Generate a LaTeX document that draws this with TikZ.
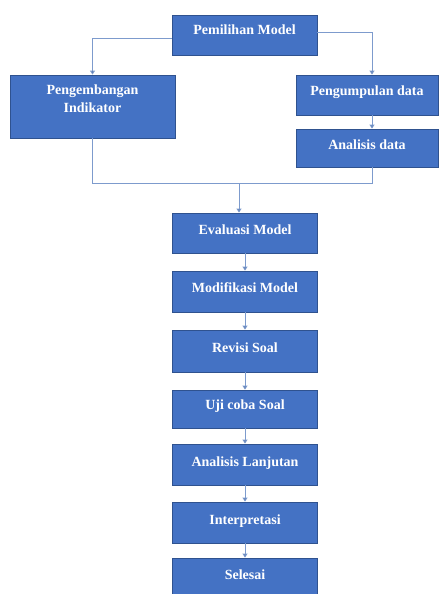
\documentclass[tikz,border=0pt]{standalone}
\usepackage{fontspec}
\setmainfont{Liberation Serif}
\usetikzlibrary{arrows.meta}
\definecolor{boxblue}{RGB}{68,114,196}
\definecolor{boxedge}{RGB}{47,82,143}
\definecolor{linkblue}{RGB}{125,155,205}

\begin{document}
\begin{tikzpicture}[
  x=1pt, y=-1pt,
  box/.style={draw=boxedge, fill=boxblue, line width=0.8pt, minimum width=145pt, minimum height=40pt,
    align=center, text=white, font=\bfseries\fontsize{14}{17.5}\selectfont, inner sep=2pt},
  line/.style={draw=linkblue, line width=0.9pt, -{Triangle[width=5pt,length=4pt,fill=boxedge]}},
  link/.style={draw=linkblue, line width=0.9pt}
]
\useasboundingbox (0,0) rectangle (439,594);
\node[box, text depth=10pt] (pem) at (244.5,35) {Pemilihan Model};
\node[box, minimum width=165pt, minimum height=63pt, text depth=16pt] (peng) at (92.5,106.5) {Pengembangan\\Indikator};
\node[box, minimum width=142pt, text depth=8pt] (kump) at (367,95) {Pengumpulan data};
\node[box, minimum width=142pt, minimum height=38pt, text depth=6pt] (ana) at (367,148) {Analisis data};
\node[box, text depth=7pt] (eval) at (245,233) {Evaluasi Model};
\node[box, minimum height=41pt, text depth=7pt] (mod) at (245,291.5) {Modifikasi Model};
\node[box, minimum height=42pt, text depth=7pt] (rev) at (245,351) {Revisi Soal};
\node[box, minimum height=38pt, text depth=8pt] (uji) at (245,409) {Uji coba Soal};
\node[box, minimum height=41pt, text depth=6pt] (lanj) at (245,464.5) {Analisis Lanjutan};
\node[box, minimum height=41pt, text depth=6pt] (intp) at (245,522.5) {Interpretasi};
\node[box, text depth=6pt] (sel) at (245,578) {Selesai};
\coordinate (merge) at (239,183);

\draw[line] (pem.west |- 0,38) -| (peng.north);
\draw[line] ([yshift=3pt]pem.east) -| ([xshift=5pt]kump.north);
\draw[line] ([xshift=5pt]kump.south) -- ([xshift=5pt]ana.north);
\draw[link] (peng.south) |- (merge);
\draw[link] ([xshift=5pt]ana.south) |- (merge);
\draw[line] (merge) -- (merge |- eval.north);
\draw[line] (eval) -- (mod);
\draw[line] (mod) -- (rev);
\draw[line] (rev) -- (uji);
\draw[line] (uji) -- (lanj);
\draw[line] (lanj) -- (intp);
\draw[line] (intp) -- (sel);
\end{tikzpicture}
\end{document}
